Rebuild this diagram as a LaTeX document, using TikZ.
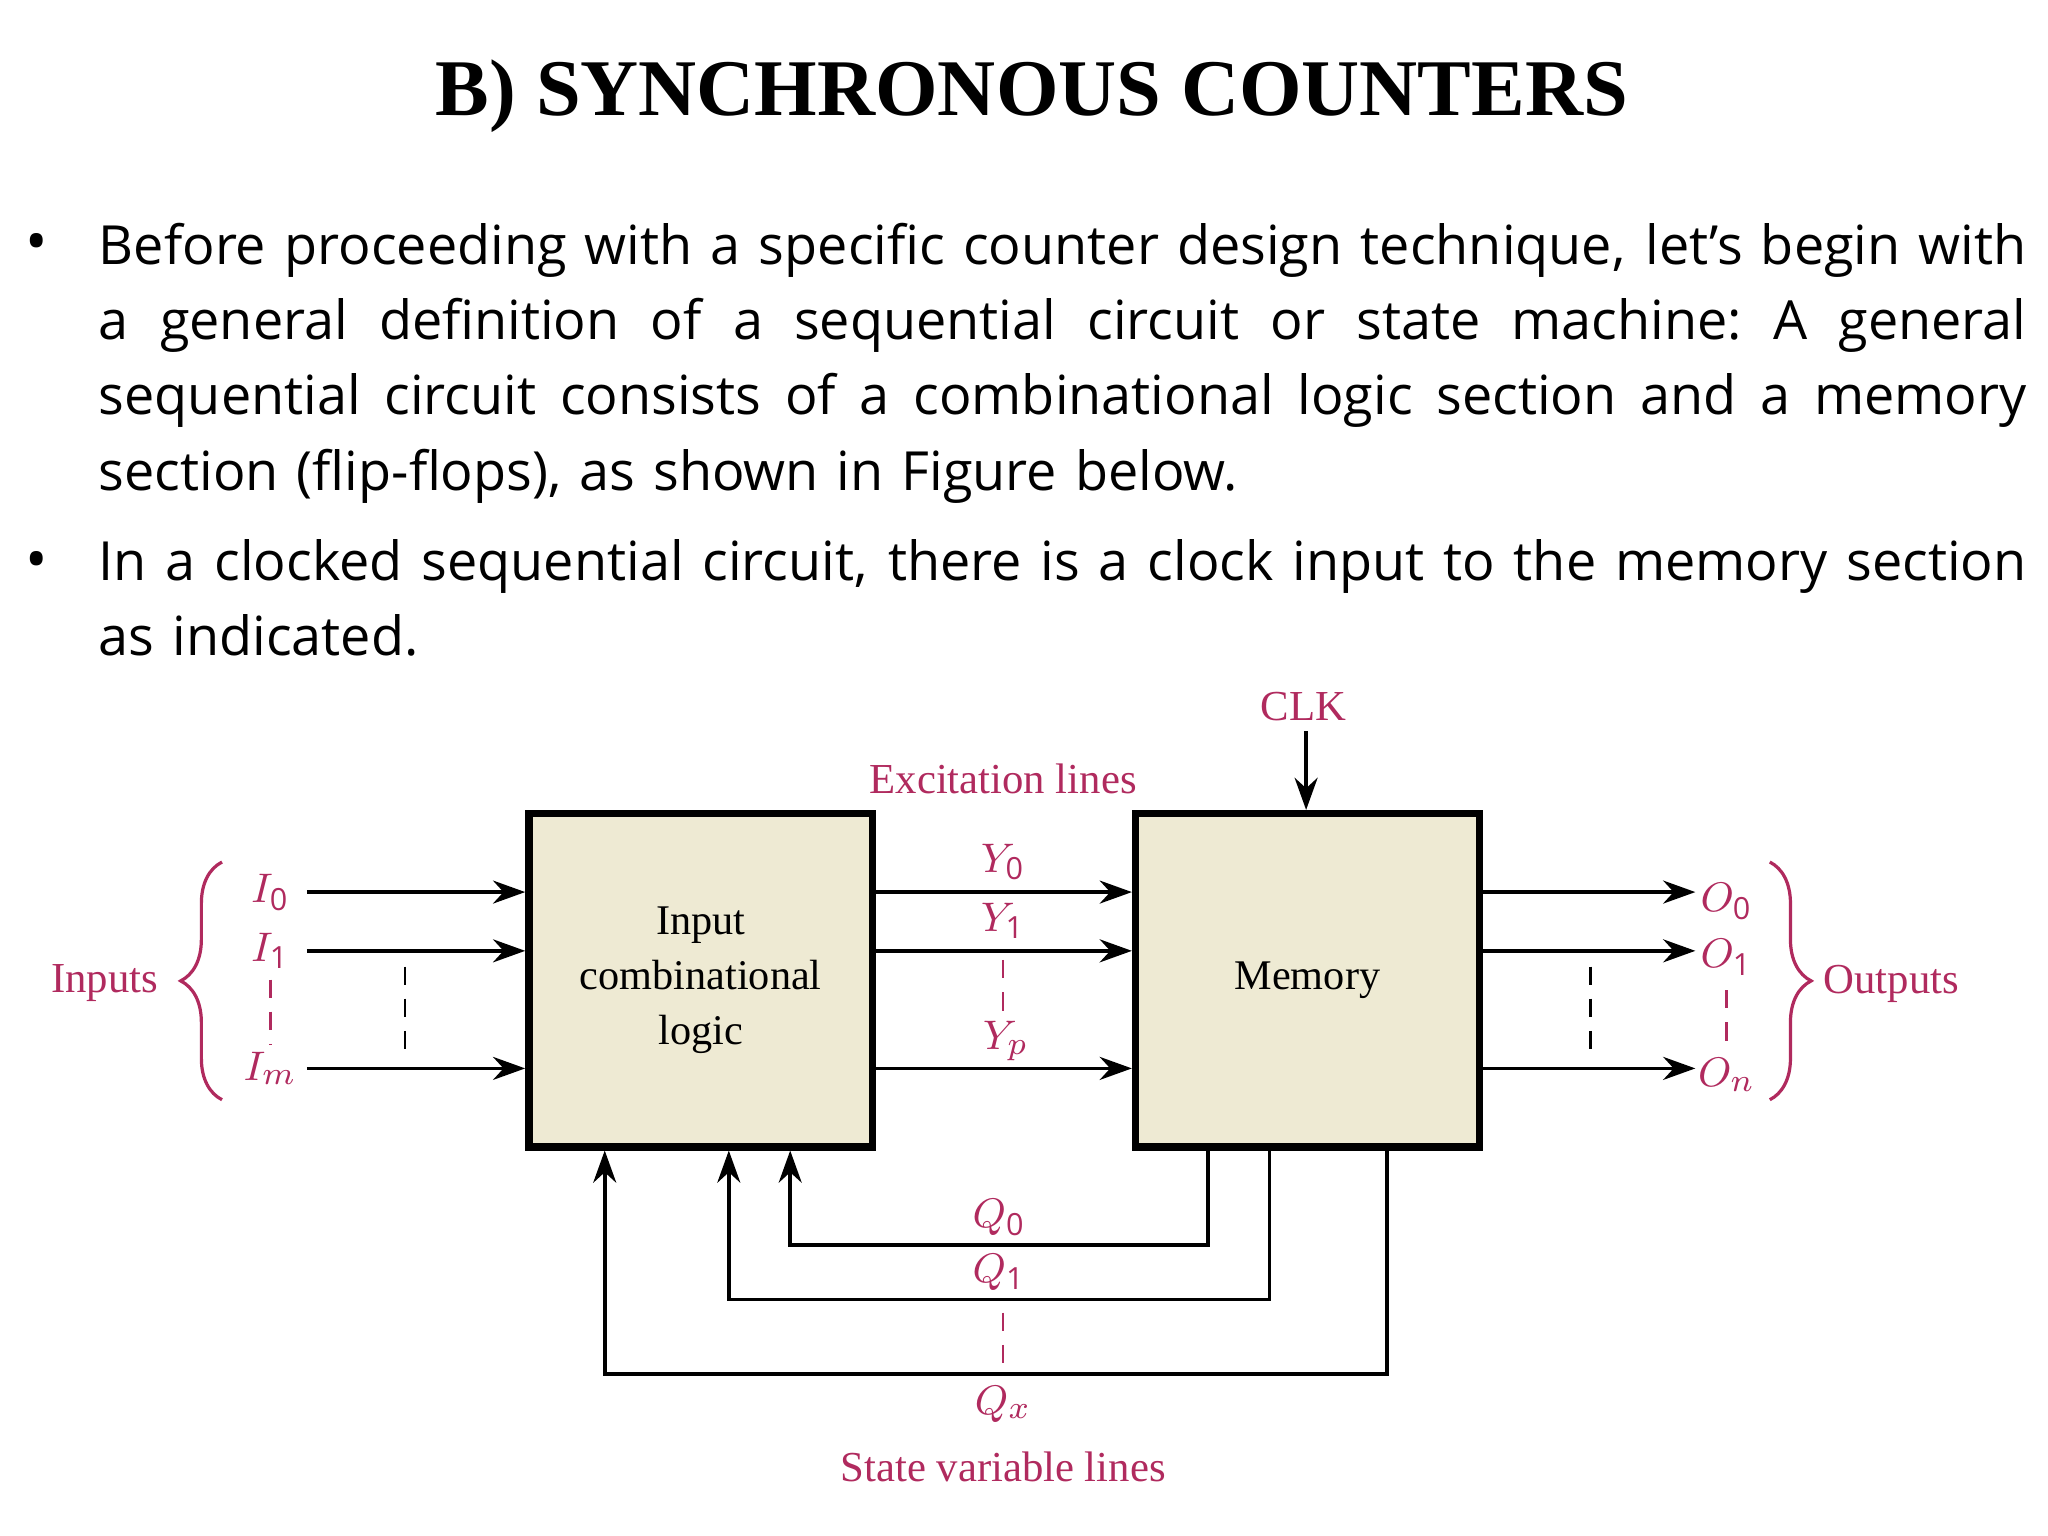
\documentclass[tikz,border=0pt]{standalone}
\usepackage{fontspec}
\setmainfont{Open Sans}
\newfontfamily\tms{Liberation Serif}
\usetikzlibrary{arrows.meta,decorations.pathreplacing}
\definecolor{mag}{HTML}{B02A5E}
\definecolor{boxf}{HTML}{EEEAD3}
\newcommand{\jl}[1]{\leavevmode\hbox to 14.75cm{\spaceskip=.2em plus 1fil\xspaceskip=.2em plus 1fil #1}\\}
\begin{document}
\begin{tikzpicture}[x=0.01cm,y=-0.01cm,
 blk/.style={draw,line width=1.6pt,fill=boxf,minimum width=2.63cm,minimum height=2.55cm,inner sep=0pt},
 ar/.style={-{Stealth[length=7pt,width=5pt]},line width=0.8pt},
 lab/.style={text=mag,font=\tms\fontsize{9.3}{11}\selectfont},
 sym/.style={text=mag,font=\tms\itshape\fontsize{9.5}{11}\selectfont},
 body/.style={anchor=north west,inner sep=0pt,font=\fontsize{11.75}{16.4}\selectfont,text width=14.75cm,align=left},
 dsh/.style={dashed,line width=0.6pt,dash pattern=on 4pt off 3pt}]
\useasboundingbox (0,0) rectangle (1568,1176);
\node[font=\tms\bfseries\fontsize{17.5}{22}\selectfont] (title) at (790,74) {B) SYNCHRONOUS COUNTERS};
\node[body] (b1) at (75,170)
 {\jl{Before proceeding with a specific counter design technique, let's begin with}\jl{a general definition of a sequential circuit or state machine: A general}\jl{sequential circuit consists of a combinational logic section and a memory}section (flip-flops), as shown in Figure below.};
\node[body] (b2) at (75,412)
 {\jl{In a clocked sequential circuit, there is a clock input to the memory section}as indicated.};
\node[font=\fontsize{13}{16}\selectfont] (d1) at (28,190) {•};
\node[font=\fontsize{13}{16}\selectfont] (d2) at (28,433) {•};

\node[blk,font=\tms\fontsize{9.2}{12}\selectfont,align=center] (icl) at (536.5,750.5) {Input\\combinational\\logic};
\node[blk,font=\tms\fontsize{9.2}{12}\selectfont] (mem) at (1001,750.5) {Memory};

\foreach \y/\n in {683/a,728/b,818/c}{
 \coordinate (i\n) at (235,\y);
 \draw[ar] (i\n) -- (icl.west |- i\n);
 \coordinate (y\n) at (668,\y);
 \draw[ar] (y\n) -- (mem.west |- y\n);
 \coordinate (o\n) at (1132,\y);
 \coordinate (oe\n) at (1298,\y);
 \draw[ar] (o\n) -- (oe\n);
}
\node[sym] (I0) at (207,683) {$I_{\mathrm 0}$};
\node[sym] (I1) at (207,728) {$I_{\mathrm 1}$};
\node[sym] (Im) at (207,818) {$I_m$};
\draw[mag,dsh] (207,750) -- (207,800);
\draw[dsh] (310,740) -- (310,805);
\draw[mag,line width=0.7pt,decorate,decoration={brace,amplitude=9pt,mirror}] (170,660) -- (170,842);
\node[lab] (inp) at (80,753) {Inputs};

\node[lab] (exc) at (768,596) {Excitation lines};
\node[sym] (Y0) at (768,660) {$Y_{\mathrm 0}$};
\node[sym] (Y1) at (768,705) {$Y_{\mathrm 1}$};
\draw[mag,dsh] (768,735) -- (768,775);
\node[sym] (Yp) at (770,797) {$Y_p$};

\node[lab] (clk) at (998,541) {CLK};
\draw[ar] (1000,560) -- (mem.north -| 1000,0);

\node[sym] (O0) at (1322,690) {$O_{\mathrm 0}$};
\node[sym] (O1) at (1322,733) {$O_{\mathrm 1}$};
\draw[mag,dsh] (1322,758) -- (1322,798);
\node[sym] (On) at (1322,823) {$O_n$};
\draw[dsh] (1218,740) -- (1218,805);
\draw[mag,line width=0.7pt,decorate,decoration={brace,amplitude=9pt}] (1355,660) -- (1355,842);
\node[lab] (outp) at (1448,753) {Outputs};

\draw[ar] (mem.south -| 925,0) -- (925,953) -- (605,953) -- (icl.south -| 605,0);
\draw[ar] (mem.south -| 972,0) -- (972,995) -- (558,995) -- (icl.south -| 558,0);
\draw[ar] (mem.south -| 1062,0) -- (1062,1052) -- (463,1052) -- (icl.south -| 463,0);
\node[sym] (Q0) at (765,932) {$Q_{\mathrm 0}$};
\node[sym] (Q1) at (765,974) {$Q_{\mathrm 1}$};
\draw[mag,dsh] (768,1005) -- (768,1045);
\node[sym] (Qx) at (768,1075) {$Q_x$};
\node[lab] (svl) at (768,1123) {State variable lines};
\end{tikzpicture}
\end{document}
